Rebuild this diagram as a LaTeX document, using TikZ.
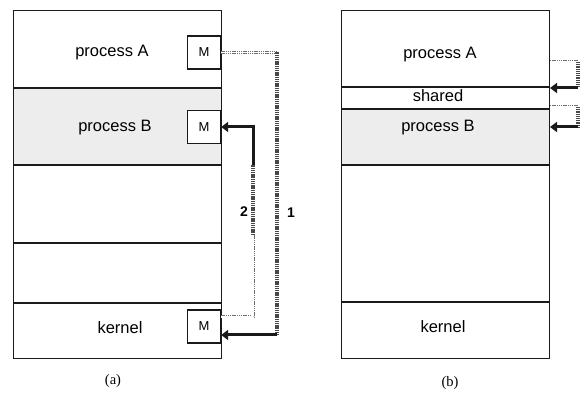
\documentclass[tikz,border=0pt]{standalone}
\usepackage{fontspec}
\setmainfont{Liberation Serif}
\setsansfont{Liberation Sans}
\usepackage{tikz}
\usetikzlibrary{arrows.meta,positioning,calc}
\definecolor{memline}{HTML}{1A1A1A}
\definecolor{privshade}{HTML}{EDEDED}
\definecolor{hatchgray}{HTML}{6E6E6E}
\tikzset{
  region/.style={draw=memline, line width=1pt, anchor=north west, inner sep=0pt, minimum width=208pt},
  privregion/.style={region, fill=privshade},
  regionlabel/.style={font=\sffamily\fontsize{16.5}{18}\selectfont, inner sep=0pt},
  mbox/.style={draw=memline, line width=1.4pt, fill=white, minimum size=33pt, inner sep=0pt, font=\sffamily\fontsize{13}{15}\selectfont},
  msgtrail/.style={draw=hatchgray, line width=0.7pt, double=white, double distance=1.6pt, dash pattern=on 1.4pt off 0.8pt},
  msgband/.style={draw=memline!80, line width=3.5pt, dash pattern=on 1.3pt off 0.9pt},
  msghead/.style={-{Triangle[length=7pt,width=10pt]}, line width=3pt, draw=memline},
  stepno/.style={font=\sffamily\bfseries\fontsize{14}{16}\selectfont, inner sep=0pt},
  caption/.style={font=\fontsize{14.5}{16}\selectfont, inner sep=0pt}
}
\begin{document}
\begin{tikzpicture}[x=1pt, y=-1pt]
  \useasboundingbox (0,0) rectangle (587,395);
  % (a) message passing
  \node[region, minimum height=77pt] (aA) at (13,10) {};
  \node[privregion, minimum height=76pt] (aB) at (aA.south west) {};
  \node[region, minimum height=77pt] (aF1) at (aB.south west) {};
  \node[region, minimum height=59pt] (aF2) at (aF1.south west) {};
  \node[region, minimum height=55pt] (aK) at (aF2.south west) {};
  \node[regionlabel] (aAlbl) at (112,53) {process A};
  \node[regionlabel] (aBlbl) at (115,128) {process B};
  \node[regionlabel] (aKlbl) at (120,328) {kernel};
  \node[mbox] (mA) at (204,52.5) {M};
  \node[mbox] (mB) at (204,127) {M};
  \node[mbox] (mK) at (204,326.5) {M};
  \coordinate (t1a) at (277,52.5);
  \coordinate (t1b) at (277,335);
  \draw[msgtrail] (mA.east) -- (t1a);
  \draw[msgband] (t1a) -- (t1b);
  \draw[msghead] (t1b) -- (t1b -| mK.east);
  \coordinate (t2a) at (253,317);
  \coordinate (t2b) at (253,235);
  \coordinate (t2c) at (253,165);
  \coordinate (t2d) at (253,127);
  \draw[msgtrail] ([yshift=9.5pt]mK.east) -- (t2a) -- (t2b);
  \draw[msgband] (t2b) -- (t2c);
  \draw[msghead] (t2c) -- (t2d) -- (mB.east);
  \node[stepno] (n2) at (244,212) {2};
  \node[stepno] (n1) at (291,213) {1};
  \node[caption] (capa) at (113,381) {(a)};
  % (b) shared memory
  \node[region, minimum height=76pt] (bA) at (341,10) {};
  \node[region, minimum height=21pt] (bS) at (bA.south west) {};
  \node[privregion, minimum height=55pt] (bB) at (bS.south west) {};
  \node[region, minimum height=136pt] (bF) at (bB.south west) {};
  \node[region, minimum height=56pt] (bK) at (bF.south west) {};
  \node[regionlabel] (bAlbl) at (440,55) {process A};
  \node[regionlabel] (bSlbl) at (438,96) {shared};
  \node[regionlabel] (bBlbl) at (438,128) {process B};
  \node[regionlabel] (bKlbl) at (443,327) {kernel};
  \coordinate (s1a) at (578,62);
  \coordinate (s1b) at (578,88);
  \draw[msgtrail] (s1a -| bA.east) -- (s1a);
  \draw[msgband] (s1a) -- (s1b);
  \draw[msghead] (s1b) -- (s1b -| bA.east);
  \coordinate (s2a) at (578,107);
  \coordinate (s2b) at (578,127);
  \draw[msgtrail] (s2a -| bB.east) -- (s2a);
  \draw[msgband] (s2a) -- (s2b);
  \draw[msghead] (s2b) -- (s2b -| bB.east);
  \node[caption] (capb) at (450,383) {(b)};
\end{tikzpicture}
\end{document}
